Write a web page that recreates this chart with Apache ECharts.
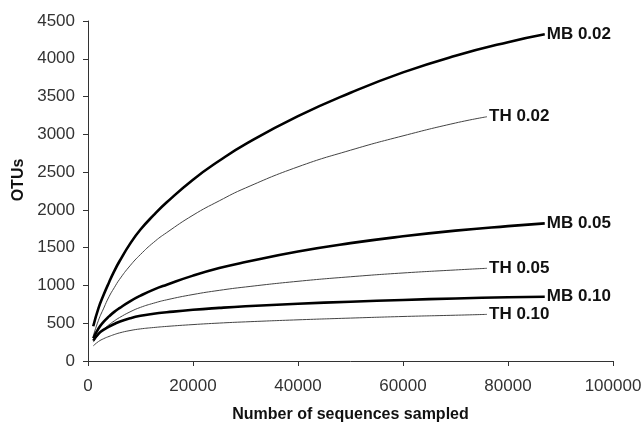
<!DOCTYPE html>
<html>
<head>
<meta charset="utf-8">
<script src="https://cdn.jsdelivr.net/npm/echarts@6/dist/echarts.min.js"></script>
<style>
  html, body { margin: 0; padding: 0; background: #fff; }
  #chart { width: 644px; height: 423px; }
</style>
</head>
<body>
<div id="chart"></div>
<script>
// sequences sampled (x) for each library
const mbX = [1000, 2000, 3000, 4000, 5000, 6000, 8000, 10000, 12500, 15000, 20000, 25000, 30000, 40000, 50000, 60000, 70000, 80000, 87000];
const thX = [1000, 2000, 3000, 4000, 5000, 6000, 8000, 10000, 12500, 15000, 20000, 25000, 30000, 40000, 50000, 60000, 70000, 76000];

// OTUs at each cutoff
const mb002 = [460, 700, 880, 1040, 1190, 1320, 1550, 1740, 1930, 2100, 2400, 2650, 2870, 3240, 3550, 3820, 4040, 4220, 4324];
const th002 = [330, 540, 700, 850, 970, 1080, 1260, 1410, 1570, 1700, 1930, 2120, 2290, 2570, 2790, 2980, 3150, 3233];
const mb005 = [300, 430, 520, 590, 650, 700, 790, 865, 945, 1010, 1130, 1230, 1310, 1450, 1560, 1650, 1725, 1785, 1822];
const th005 = [250, 350, 420, 480, 530, 575, 650, 710, 765, 810, 880, 935, 980, 1055, 1115, 1165, 1205, 1227];
const mb010 = [270, 360, 415, 455, 490, 520, 565, 598, 625, 645, 678, 703, 724, 758, 785, 808, 828, 843, 851];
const th010 = [200, 258, 296, 325, 350, 372, 403, 425, 443, 458, 482, 502, 518, 545, 568, 589, 606, 617];

const font = "Liberation Sans, Arial, Helvetica, sans-serif";

function pairs(xs, ys) {
	return xs.map((x, i) => [x, ys[i]]);
}

function curve(name, xs, ys, thick) {
	return {
		name: name,
		type: "line",
		data: pairs(xs, ys),
		smooth: 0.5,
		showSymbol: false,
		lineStyle: {
			width: thick ? 2.6 : 1,
			color: thick ? "#000" : "#444",
		},
		endLabel: {
			show: true,
			formatter: "{a}",
			distance: 2,
			fontFamily: font,
			fontWeight: "bold",
			fontSize: 17,
			color: "#111",
		},
	};
}

const chart = echarts.init(document.getElementById("chart"));

const option = {
	animation: false,
	backgroundColor: "#fff",
	grid: { left: 88, right: 31, top: 21, bottom: 62, containLabel: false, outerBoundsMode: "none" },
	xAxis: {
		type: "value",
		min: 0,
		max: 100000,
		interval: 20000,
		name: "Number of sequences sampled",
		nameLocation: "middle",
		nameGap: 46,
		nameTextStyle: { fontFamily: font, fontWeight: "bold", fontSize: 16, color: "#111" },
		axisLine: { lineStyle: { color: "#333", width: 1 } },
		axisTick: { show: true, length: 5, lineStyle: { color: "#333" } },
		axisLabel: {
			fontFamily: font,
			fontSize: 17,
			color: "#333",
			margin: 17,
			formatter: (v) => String(v),
		},
		splitLine: { show: false },
	},
	yAxis: {
		type: "value",
		min: 0,
		max: 4500,
		interval: 500,
		name: "OTUs",
		nameLocation: "middle",
		nameGap: 59,
		nameTextStyle: {
			fontFamily: font,
			fontWeight: "bold",
			fontSize: 16,
			color: "#111",
			padding: [0, 0, 0, 22],
		},
		axisLine: { show: true, lineStyle: { color: "#333", width: 1 } },
		axisTick: { show: true, length: 5, lineStyle: { color: "#333" } },
		axisLabel: {
			fontFamily: font,
			fontSize: 17,
			color: "#333",
			margin: 13,
			formatter: (v) => String(v),
		},
		splitLine: { show: false },
	},
	series: [
		curve("MB 0.02", mbX, mb002, true),
		curve("TH 0.02", thX, th002, false),
		curve("MB 0.05", mbX, mb005, true),
		curve("TH 0.05", thX, th005, false),
		curve("MB 0.10", mbX, mb010, true),
		curve("TH 0.10", thX, th010, false),
	],
};

chart.setOption(option);
</script>
</body>
</html>
